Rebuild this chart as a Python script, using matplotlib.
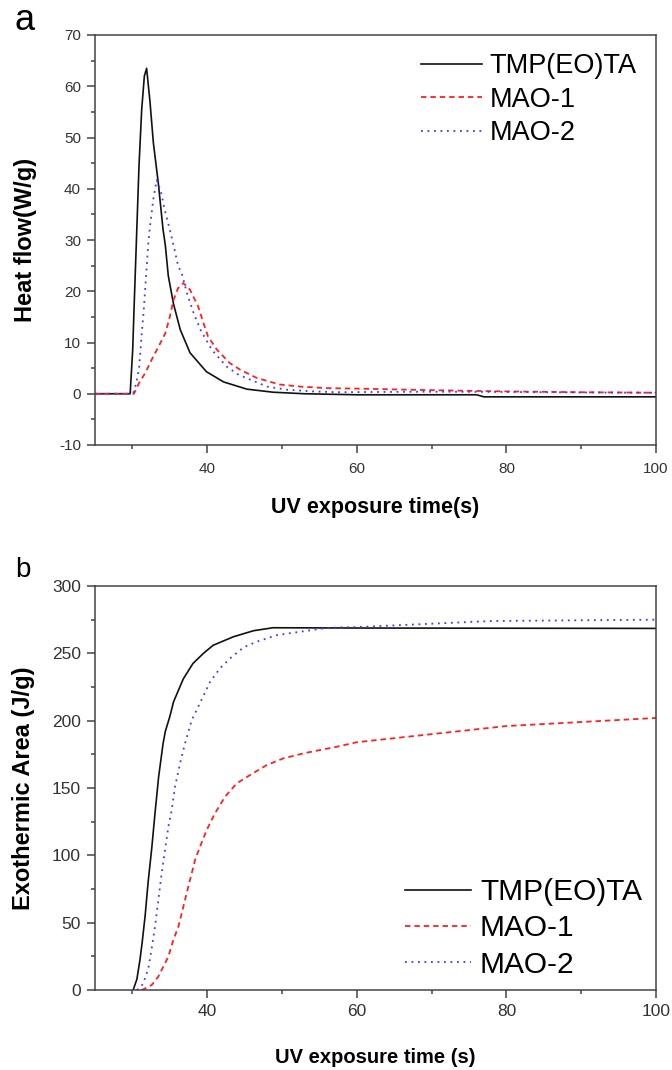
import numpy as np
import matplotlib
matplotlib.use("Agg")
import matplotlib.pyplot as plt
from matplotlib.ticker import MultipleLocator

plt.rcParams['font.family'] = ['Liberation Sans', 'DejaVu Sans']
plt.rcParams['axes.unicode_minus'] = False

labels = ['TMP(EO)TA', 'MAO-1', 'MAO-2']

# panel a: heat flow (W/g) vs time (s)
hf_t_tmp = [25, 29.7, 30.04, 30.26, 30.57, 30.88, 31.24, 31.6, 31.9, 32.35, 32.8, 33.47, 34.1, 34.4,
            34.8, 35.5, 36.4, 37.7, 39.9, 42.2, 45.3, 48.8, 53, 60, 76, 77, 100]
hf_tmp = [0, 0, 8.6, 18.3, 31.3, 44.4, 55.4, 62, 63.5, 57, 49, 41, 32, 29,
          23, 17.5, 12.5, 8, 4.3, 2.3, 0.9, 0.3, 0, -0.2, -0.2, -0.6, -0.6]
hf_t_m1 = [25, 30.2, 31.0, 31.7, 32.8, 33.5, 34.4, 35.0, 35.5, 36.1, 36.8, 37.7, 38.8, 39.5, 40.1,
           41.3, 43.0, 44.4, 46.6, 49.7, 52.4, 55.9, 60, 70, 80, 90, 100]
hf_m1 = [0, 0, 2.4, 4, 7.3, 9.2, 11.8, 15, 18.3, 20.6, 21.6, 20.3, 17, 13.8, 11.2,
         8.6, 6, 4.7, 3.1, 1.8, 1.4, 1.1, 1.0, 0.7, 0.45, 0.3, 0.2]
hf_t_m2 = [25, 30.1, 30.5, 30.9, 31.25, 31.5, 31.9, 32.1, 32.35, 32.8, 33.25, 33.8, 34.3, 34.9, 35.5,
           36.1, 36.6, 37.3, 38.2, 39.1, 40.6, 42.6, 44.2, 48, 50.6, 54.2, 57.3, 70, 80, 90, 100]
hf_m2 = [0, 0, 2, 5, 11.8, 16, 24.5, 29, 32.6, 38, 41.7, 39.5, 36, 32.6, 29,
         25, 23.5, 19.6, 15.7, 12.5, 8.6, 5.3, 3.7, 1.4, 0.8, 0.45, 0.3, 0.4, 0.35, 0.25, 0.2]

# panel b: exothermic area (J/g) vs time (s)
ea_t_tmp = [30.1, 30.6, 31.0, 31.3, 31.7, 32.1, 32.6, 33.0, 33.5, 34.1, 34.4, 35.0, 35.5, 36.8, 38.1,
            39.5, 40.8, 43.5, 46.2, 48.8, 60, 100]
ea_tmp = [0, 8, 22, 35, 55, 80, 106, 130, 158, 183, 192, 203, 214, 231, 242.5,
          250, 256, 262.3, 266.8, 269, 268.8, 268.5]
ea_t_m1 = [31.2, 31.46, 32.58, 33.46, 34.13, 34.8, 35.47, 36.14, 36.59, 37.03, 37.47, 37.93, 38.37,
           39.04, 39.93, 41.04, 42.38, 43.94, 45.72, 47.95, 50.17, 52.85, 55.52, 57.3, 60, 70, 80, 90, 100]
ea_m1 = [0, 0.5, 3.7, 9.9, 17.3, 24.7, 37.1, 47, 56.9, 66.8, 76.7, 86.6, 96.5,
         106.4, 118.8, 131.2, 143.5, 153.4, 159.6, 167, 172, 175.7, 178.7, 180.6, 184, 190, 196, 199, 202]
ea_t_m2 = [30.6, 31.0, 31.46, 32.13, 32.58, 33.02, 33.47, 33.91, 34.36, 34.8, 35.25, 35.7, 36.36,
           37.03, 37.93, 38.6, 40.4, 41.7, 43.07, 44.85, 46.6, 49.3, 52.4, 55.5, 57.8, 60, 66, 70, 78, 100]
ea_m2 = [0, 1.5, 5, 16, 31, 47, 66.8, 86.6, 104, 121, 133.6, 151, 168,
         183, 200.4, 208, 229, 238.8, 246.3, 254.4, 258.6, 263.5, 266, 268.5, 269.3, 269.5, 271, 272, 274, 275]

styles = [dict(color='#111111', ls='-', lw=1.2),
          dict(color='#ff2020', ls=(0, (3, 2.2)), lw=1.3),
          dict(color='#3a3aff', ls=(0, (1, 2.6)), lw=1.3)]

W, H = 672, 1070
fig = plt.figure(figsize=(W / 100, H / 100), dpi=100)
ax1 = fig.add_axes([95 / W, 1 - 445 / H, 561 / W, 410 / H])
ax2 = fig.add_axes([95 / W, 1 - 990 / H, 561 / W, 404 / H])

for t, v, s, lab in zip([hf_t_tmp, hf_t_m1, hf_t_m2], [hf_tmp, hf_m1, hf_m2], styles, labels):
    ax1.plot(t, v, label=lab, **s)
for t, v, s, lab in zip([ea_t_tmp, ea_t_m1, ea_t_m2], [ea_tmp, ea_m1, ea_m2], styles, labels):
    ax2.plot(t, v, label=lab, **s)


def style_axes(ax, ylo, yhi, ymaj, ymin, fs, xpad):
    ax.set_xlim(25, 100)
    ax.set_ylim(ylo, yhi)
    ax.xaxis.set_major_locator(MultipleLocator(20))
    ax.xaxis.set_minor_locator(MultipleLocator(10))
    ax.yaxis.set_major_locator(MultipleLocator(ymaj))
    ax.yaxis.set_minor_locator(MultipleLocator(ymin))
    ax.set_xticks([40, 60, 80, 100])
    for sp in ax.spines.values():
        sp.set_color('#444444')
        sp.set_linewidth(1.1)
    ax.tick_params(which='major', direction='out', length=6, width=1.1, color='#444444',
                   labelsize=fs, labelcolor='#333333')
    ax.tick_params(which='minor', direction='out', length=3, width=1.1, color='#444444')
    ax.tick_params(axis='x', which='major', pad=xpad)
    ax.tick_params(axis='y', which='major', pad=4)


style_axes(ax1, -10, 70, 10, 5, 11, 6)
style_axes(ax2, 0, 300, 50, 25, 12.5, 4)

ax1.set_xlabel('UV exposure time(s)', fontsize=15.5, fontweight='bold')
ax1.xaxis.set_label_coords(0.5, -0.127)
ax1.set_ylabel('Heat flow(W/g)', fontsize=17, fontweight='bold')
ax1.yaxis.set_label_coords(-0.103, 0.5)

ax2.set_xlabel('UV exposure time (s)', fontsize=14.5, fontweight='bold')
ax2.xaxis.set_label_coords(0.5, -0.1436)
ax2.set_ylabel('Exothermic Area (J/g)', fontsize=17, fontweight='bold')
ax2.yaxis.set_label_coords(-0.107, 0.5)

ax1.legend(loc='upper right', bbox_to_anchor=(0.966, 0.956), frameon=False, fontsize=19.5,
           borderpad=0, borderaxespad=0, handlelength=2.25, handletextpad=0.3, labelspacing=0.28)
ax2.legend(loc='upper right', bbox_to_anchor=(0.975, 0.277), frameon=False, fontsize=21.5,
           borderpad=0, borderaxespad=0, handlelength=2.2, handletextpad=0.3, labelspacing=0.28)

fig.text(15 / W, 1 - 30 / H, 'a', fontsize=26, va='baseline')
fig.text(15 / W, 1 - 577 / H, 'b', fontsize=20, va='baseline')

fig.savefig('out.png', dpi=100)
